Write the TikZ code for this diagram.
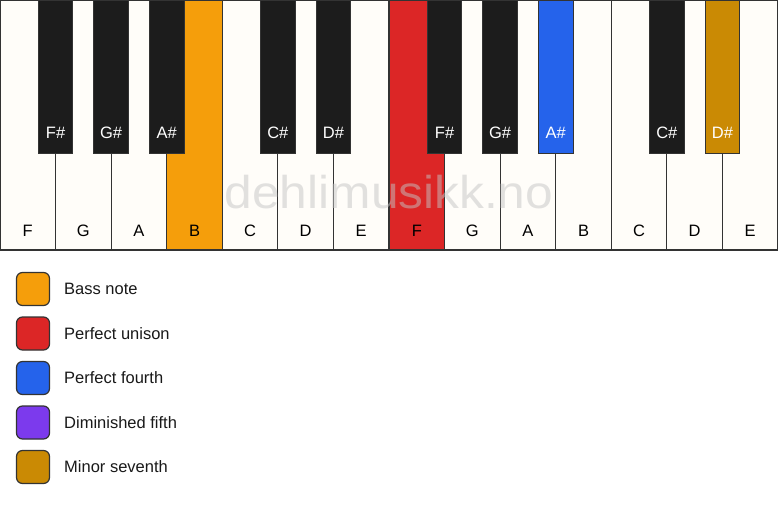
\documentclass[tikz,border=0pt]{standalone}
\usepackage{fontspec}
\setmainfont{Liberation Sans}
\definecolor{keywhite}{HTML}{FFFDF9}
\definecolor{keyblack}{HTML}{1C1C1C}
\definecolor{keyline}{HTML}{333333}
\definecolor{cbass}{HTML}{F59E0B}
\definecolor{cunison}{HTML}{DC2626}
\definecolor{cfourth}{HTML}{2563EB}
\definecolor{cdimfifth}{HTML}{7C3AED}
\definecolor{cminsev}{HTML}{CA8A04}
\definecolor{wmark}{HTML}{C4C4C4}
\begin{document}
\begin{tikzpicture}[x=1pt,y=-1pt,
  whitekey/.style={draw=keyline,line width=1.2pt,fill=keywhite},
  blackkey/.style={draw=keyline,line width=0.8pt,fill=keyblack},
  wlabel/.style={font=\fontsize{16.5}{20}\selectfont,text=black,anchor=center},
  blabel/.style={font=\fontsize{16.5}{20}\selectfont,text=white,anchor=center},
  swatch/.style={draw=keyline,line width=1.2pt,rounded corners=6pt,minimum width=33pt,minimum height=33pt,inner sep=0pt},
  legtext/.style={font=\fontsize{16.5}{20}\selectfont,text=black!90,anchor=west,inner sep=0pt}]
\useasboundingbox (0,0) rectangle (778,506);
\fill[white] (0,0) rectangle (778,506);
\def\w{55.5714}
% white keys
\foreach \i/\n/\c in {0/F/keywhite,1/G/keywhite,2/A/keywhite,3/B/cbass,4/C/keywhite,5/D/keywhite,6/E/keywhite,7/F/cunison,8/G/keywhite,9/A/keywhite,10/B/keywhite,11/C/keywhite,12/D/keywhite,13/E/keywhite}{
  \path[whitekey,fill=\c] ({\i*\w},0) rectangle ({(\i+1)*\w},250);
  \node[wlabel] (w\i) at ({(\i+0.5)*\w},231) {\n};
}
% black keys
\foreach \k/\n/\c in {1/F\#/keyblack,2/G\#/keyblack,3/A\#/keyblack,5/C\#/keyblack,6/D\#/keyblack,8/F\#/keyblack,9/G\#/keyblack,10/A\#/cfourth,12/C\#/keyblack,13/D\#/cminsev}{
  \path[blackkey,fill=\c] ({\k*\w-17.3},0) rectangle ({\k*\w+17.3},153);
  \node[blabel] (b\k) at ({\k*\w},133) {\n};
}
% watermark
\node[font=\fontsize{46}{52}\selectfont,text=wmark,opacity=0.5,anchor=base,xscale=1.08] (wm) at (389,208) {dehlimusikk.no};
% legend
\foreach \j/\c/\t in {0/cbass/Bass note,1/cunison/Perfect unison,2/cfourth/Perfect fourth,3/cdimfifth/Diminished fifth,4/cminsev/Minor seventh}{
  \node[swatch,fill=\c] (s\j) at (33,{289+\j*44.5}) {};
  \node[legtext] (t\j) at (64,{289+\j*44.5}) {\t};
}
\end{tikzpicture}
\end{document}
